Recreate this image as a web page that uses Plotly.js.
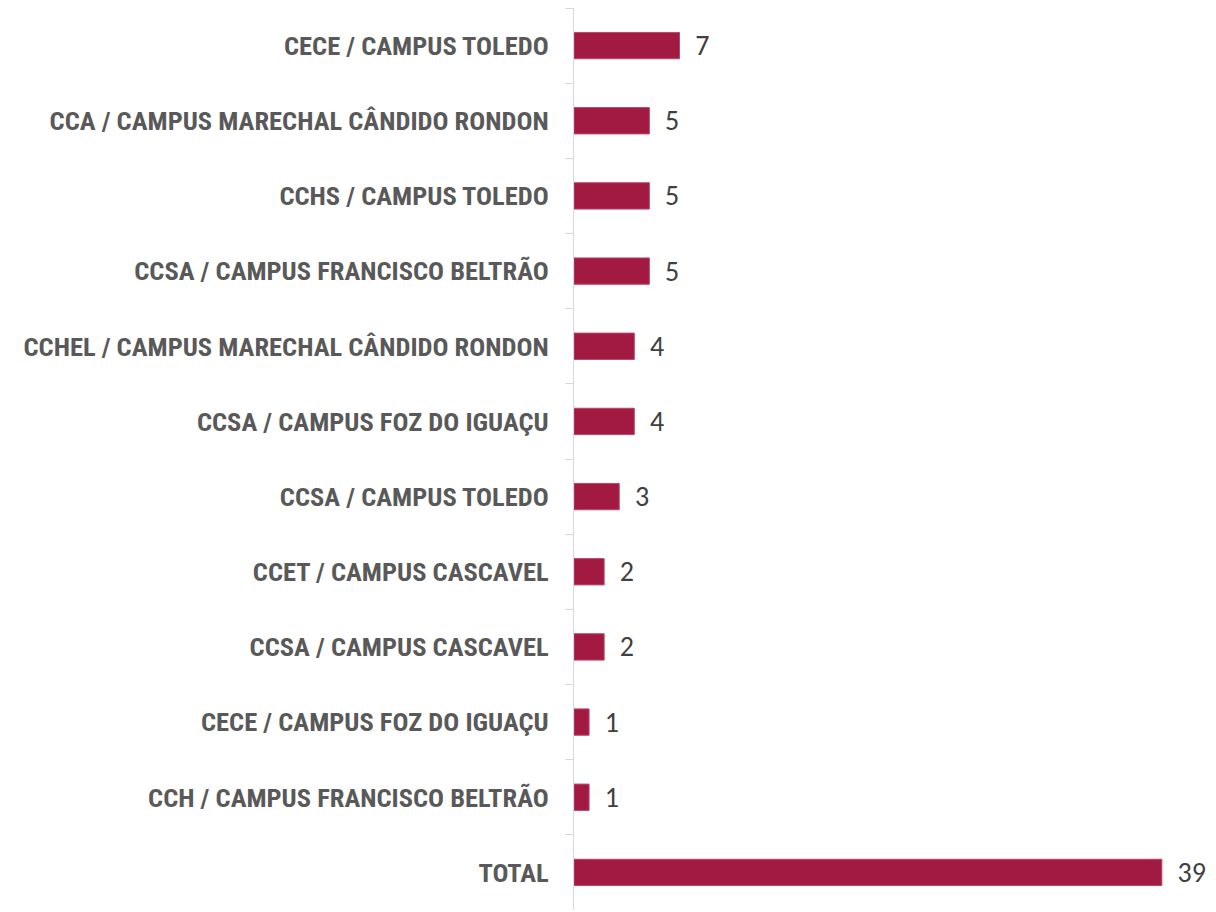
<!DOCTYPE html>
<html>
<head>
<meta charset="utf-8">
<script src="https://cdn.plot.ly/plotly-3.0.1.min.js"></script>
<style>
  body { margin: 0; background: #fff; }
  #chart { width: 1216px; height: 912px; }
</style>
</head>
<body>
<div id="chart"></div>
<script>
var categories = [
  "CECE / CAMPUS TOLEDO",
  "CCA / CAMPUS MARECHAL CÂNDIDO RONDON",
  "CCHS / CAMPUS TOLEDO",
  "CCSA / CAMPUS FRANCISCO BELTRÃO",
  "CCHEL / CAMPUS MARECHAL CÂNDIDO RONDON",
  "CCSA / CAMPUS FOZ DO IGUAÇU",
  "CCSA / CAMPUS TOLEDO",
  "CCET / CAMPUS CASCAVEL",
  "CCSA / CAMPUS CASCAVEL",
  "CECE / CAMPUS FOZ DO IGUAÇU",
  "CCH / CAMPUS FRANCISCO BELTRÃO",
  "TOTAL"
];
var counts = [7, 5, 5, 5, 4, 4, 3, 2, 2, 1, 1, 39];

var BAR_COLOR = "#A21942";
var AXIS_COLOR = "#d9d9d9";

var data = [
  {
    type: 'bar',
    orientation: 'h',
    y: categories,
    x: counts,
    width: 0.35,
    marker: { color: BAR_COLOR, line: { color: "#b8466a", width: 1 } },
    text: counts.map(function(v) { return "  " + v; }),
    textposition: 'outside',
    constraintext: 'none',
    cliponaxis: false,
    textfont: { family: "Carlito, Lato, sans-serif", size: 28, color: "#404040" },
    hoverinfo: 'none'
  }
];

var layout = {
  margin: { l: 574, r: 24, t: 8, b: 2 },
  paper_bgcolor: "#fff",
  plot_bgcolor: "#fff",
  showlegend: false,
  xaxis: {
    range: [0, 41],
    visible: false,
    showgrid: false,
    zeroline: false
  },
  yaxis: {
    autorange: 'reversed',
    showline: true,
    linecolor: AXIS_COLOR,
    linewidth: 1,
    ticks: 'outside',
    tickson: 'boundaries',
    ticklen: 8,
    tickcolor: AXIS_COLOR,
    ticklabelstandoff: 19,
    showgrid: false,
    zeroline: false,
    tickfont: { family: "'Roboto Condensed', Roboto, sans-serif", size: 26.5, color: "#595959", weight: 'bold' }
  }
};

Plotly.newPlot(document.getElementById("chart"), data, layout, { displaylogo: false, displayModeBar: false, staticPlot: true });
</script>
</body>
</html>
